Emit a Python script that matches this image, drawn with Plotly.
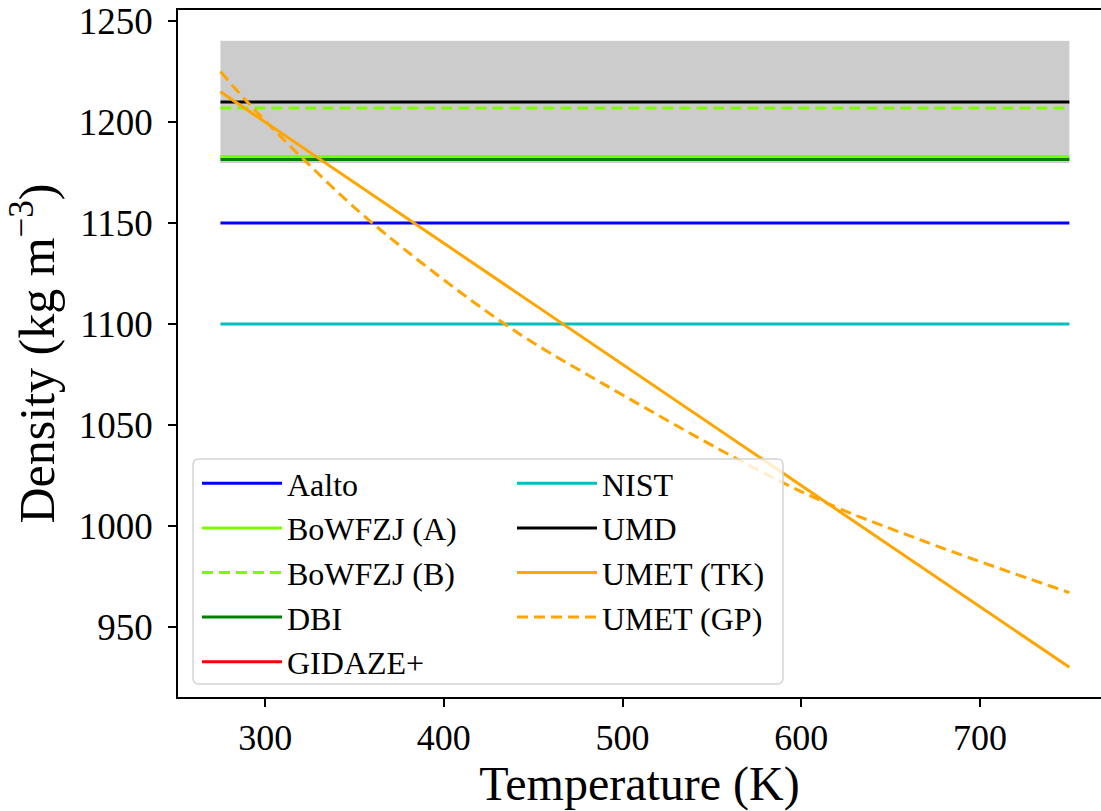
import plotly.graph_objects as go

# ---- data ----
T_range = [275, 750]
band_low = 1180
band_high = 1240

series_names = ["Aalto", "BoWFZJ (A)", "BoWFZJ (B)", "DBI", "GIDAZE+", "NIST", "UMD"]
series_values = [1150, 1183, 1207, 1181.5, None, 1100, 1210]
series_colors = ["#0000ff", "#7cfc00", "#7cfc00", "#008000", "#ff0000", "#00bfbf", "#000000"]
series_dash = ["solid", "solid", "11px,6px", "solid", "solid", "solid", "solid"]

tk_T = [275, 750]
tk_rho = [1215, 930]

gp_T = [275, 290, 321, 360, 434, 488, 600, 670, 750]
gp_rho = [1225, 1210, 1182, 1150, 1100, 1071, 1017, 992, 967]

x_ticks = [300, 400, 500, 600, 700]
y_ticks = [950, 1000, 1050, 1100, 1150, 1200, 1250]

# which legend column each entry goes in
legend_col = {"Aalto": "legend", "BoWFZJ (A)": "legend", "BoWFZJ (B)": "legend",
              "DBI": "legend", "GIDAZE+": "legend",
              "NIST": "legend2", "UMD": "legend2", "UMET (TK)": "legend2", "UMET (GP)": "legend2"}

FONT = "Liberation Serif"
fig = go.Figure()

# grey band
fig.add_trace(go.Scatter(x=T_range, y=[band_low] * len(T_range), mode="lines",
                         line=dict(color="#cccccc", width=1), showlegend=False, hoverinfo="skip"))
fig.add_trace(go.Scatter(x=T_range, y=[band_high] * len(T_range), mode="lines",
                         line=dict(color="#cccccc", width=1), fill="tonexty",
                         fillcolor="#cccccc", showlegend=False, hoverinfo="skip"))

for name, val, col, dash in zip(series_names, series_values, series_colors, series_dash):
    fig.add_trace(go.Scatter(x=T_range, y=[val] * len(T_range), mode="lines", name=name,
                             line=dict(color=col, width=3, dash=dash),
                             legend=legend_col[name], legendgroup=name))

fig.add_trace(go.Scatter(x=tk_T, y=tk_rho, mode="lines", name="UMET (TK)",
                         line=dict(color="#ffa500", width=3),
                         legend=legend_col["UMET (TK)"], legendgroup="UMET (TK)"))
fig.add_trace(go.Scatter(x=gp_T, y=gp_rho, mode="lines", name="UMET (GP)",
                         line=dict(color="#ffa500", width=3, dash="11px,6px", shape="spline", smoothing=1.0),
                         legend=legend_col["UMET (GP)"], legendgroup="UMET (GP)"))

# legend frame (drawn behind the legend entries, above the data)
L, R, B, Tp = 178, 1101, 697, 10
W, H = R - L, B - Tp
bx0, bx1, by0, by1 = 193, 783, 684, 459
px = lambda v: (v - L) / W
py = lambda v: (B - v) / H
rx, ry = 6 / W, 6 / H
x0, x1, y0, y1 = px(bx0), px(bx1), py(by0), py(by1)
path = (f"M {x0+rx},{y0} L {x1-rx},{y0} Q {x1},{y0} {x1},{y0+ry} "
        f"L {x1},{y1-ry} Q {x1},{y1} {x1-rx},{y1} L {x0+rx},{y1} "
        f"Q {x0},{y1} {x0},{y1-ry} L {x0},{y0+ry} Q {x0},{y0} {x0+rx},{y0} Z")
fig.add_shape(type="path", path=path, xref="paper", yref="paper", layer="above",
              fillcolor="rgba(255,255,255,0.8)", line=dict(color="#d4d4d4", width=1.5))

leg_common = dict(orientation="v", yanchor="top", xanchor="left",
                  bgcolor="rgba(0,0,0,0)", borderwidth=0, itemwidth=80,
                  tracegroupgap=0, traceorder="grouped",
                  font=dict(family=FONT, size=32, color="black"))

fig.update_layout(
    width=1101, height=811,
    margin=dict(l=L, r=0, t=Tp, b=811 - B),
    paper_bgcolor="white", plot_bgcolor="white",
    font=dict(family=FONT, size=32, color="black"),
    showlegend=True,
    legend=dict(x=px(197), y=py(456), **leg_common),
    legend2=dict(x=px(512), y=py(456), **leg_common),
    xaxis=dict(
        range=[251.25, 767.7], tickvals=x_ticks,
        showgrid=False, zeroline=False,
        showline=True, linecolor="black", linewidth=1.5, mirror=True,
        ticks="outside", ticklen=8, tickwidth=1.5, tickcolor="black",
        tickfont=dict(family=FONT, size=36), ticklabelstandoff=0,
        title=dict(text="Temperature (K)", font=dict(family=FONT, size=48), standoff=4),
    ),
    yaxis=dict(
        range=[915.3, 1255.5], tickvals=y_ticks,
        showgrid=False, zeroline=False,
        showline=True, linecolor="black", linewidth=1.5, mirror=False,
        ticks="outside", ticklen=8, tickwidth=1.5, tickcolor="black",
        tickfont=dict(family=FONT, size=37), ticklabelstandoff=8,
        title=dict(text="Density (kg m<sup>−3</sup>)", font=dict(family=FONT, size=50), standoff=8),
    ),
)

fig.write_html("out.html")
